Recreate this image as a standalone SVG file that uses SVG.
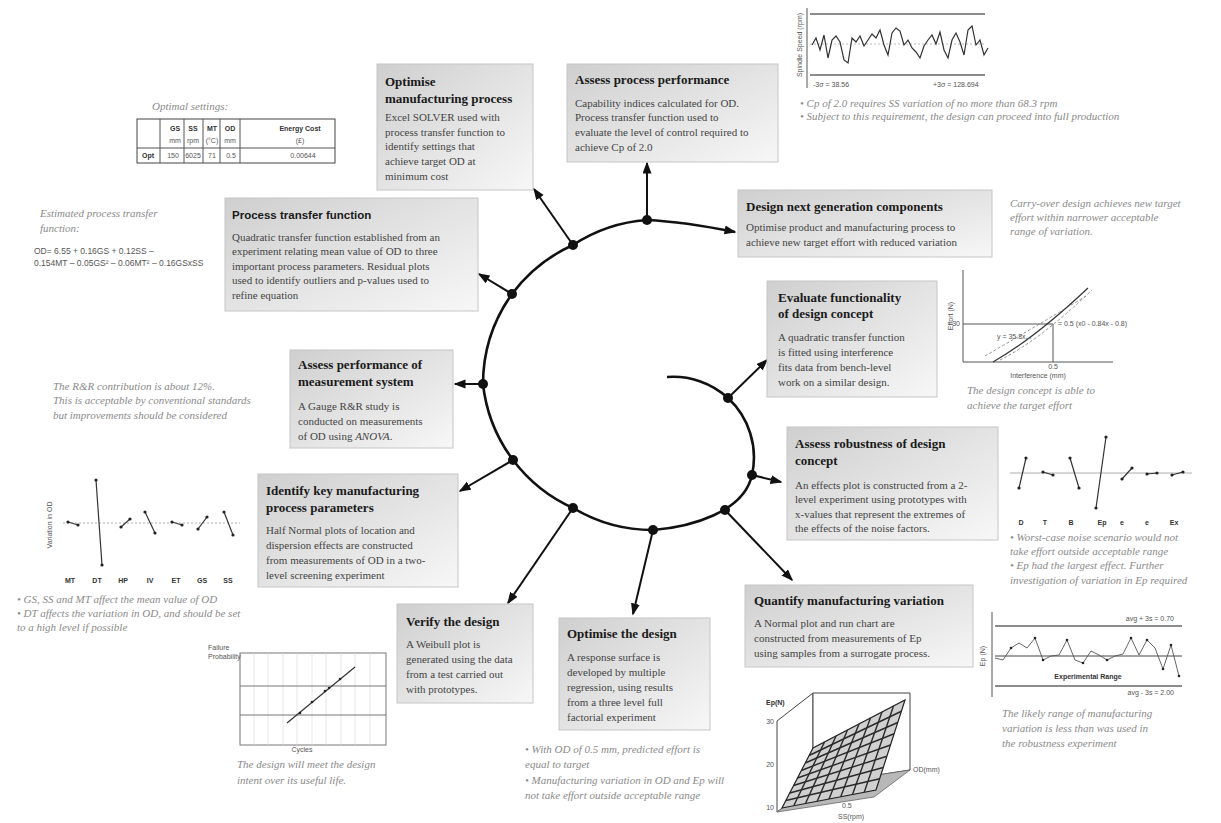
<svg xmlns="http://www.w3.org/2000/svg" width="1221" height="823" viewBox="0 0 1221 823">
<defs>
<linearGradient id="g" x1="0" y1="0" x2="1" y2="1">
<stop offset="0" stop-color="#cfcfcf"/>
<stop offset="1" stop-color="#f7f7f7"/>
</linearGradient>
<marker id="ah" markerUnits="userSpaceOnUse" markerWidth="13" markerHeight="10" refX="10.5" refY="4.5" orient="auto">
<path d="M0,0 L12,4.5 L0,9 z" fill="#111"/>
</marker>
<style>
.box{fill:url(#g);stroke:#c6c6c6;stroke-width:1}
.t{font-family:"Liberation Serif",serif;font-weight:bold;font-size:13px;fill:#1a1a1a}
.ts{font-family:"Liberation Sans",sans-serif;font-weight:bold;font-size:11.5px;fill:#1a1a1a}
.b{font-family:"Liberation Serif",serif;font-size:11px;fill:#444}
.n{font-family:"Liberation Serif",serif;font-style:italic;font-size:11px;fill:#8a8a8a}
.s{font-family:"Liberation Sans",sans-serif;font-size:7px;fill:#555}
.sb{font-family:"Liberation Sans",sans-serif;font-size:7px;fill:#333;font-weight:bold}
.eq{font-family:"Liberation Sans",sans-serif;font-size:8.5px;fill:#555}
.arr{stroke:#111;stroke-width:2;fill:none;marker-end:url(#ah)}
.ax{stroke:#555;stroke-width:1;fill:none}
.dl{stroke:#333;stroke-width:1.2;fill:none}
.dot{fill:#111}
</style>
</defs>
<rect width="1221" height="823" fill="#fff"/>

<!-- connectors -->
<g id="connectors">
<path d="M667,377 A81,81 0 0 1 728,398 A81,81 0 0 1 752,475 C744,512 691,527 653,530 A155,155 0 0 1 573,508 A155,155 0 0 1 513,460 A155,155 0 0 1 483,384 A155,155 0 0 1 512,294 A155,155 0 0 1 573,245 A155,155 0 0 1 647,220 C677,221.4 705,226 735,232" fill="none" stroke="#111" stroke-width="2.6" marker-end="url(#ah)"/>
<line class="arr" x1="647" y1="220" x2="647" y2="163"/>
<line class="arr" x1="573" y1="245" x2="534" y2="189"/>
<line class="arr" x1="512" y1="294" x2="479" y2="274"/>
<line class="arr" x1="483" y1="384" x2="455" y2="384"/>
<line class="arr" x1="513" y1="460" x2="460" y2="491"/>
<line class="arr" x1="573" y1="508" x2="508" y2="603"/>
<line class="arr" x1="653" y1="530" x2="633" y2="614"/>
<line class="arr" x1="725" y1="510" x2="792" y2="580"/>
<line class="arr" x1="752" y1="475" x2="781" y2="482"/>
<line class="arr" x1="728" y1="398" x2="767" y2="360"/>
<circle class="dot" cx="647" cy="220" r="5"/>
<circle class="dot" cx="573" cy="245" r="5"/>
<circle class="dot" cx="512" cy="294" r="5"/>
<circle class="dot" cx="483" cy="384" r="5"/>
<circle class="dot" cx="513" cy="460" r="5"/>
<circle class="dot" cx="573" cy="508" r="5"/>
<circle class="dot" cx="653" cy="530" r="5"/>
<circle class="dot" cx="725" cy="510" r="5"/>
<circle class="dot" cx="752" cy="475" r="5"/>
<circle class="dot" cx="728" cy="398" r="5"/>
</g>

<!-- nodes -->
<g id="optimise-mfg">
<rect class="box" x="377" y="64" width="156" height="126"/>
<text class="t" x="385" y="86">Optimise</text>
<text class="t" x="385" y="103">manufacturing process</text>
<text class="b" x="385" y="121">Excel SOLVER used with</text>
<text class="b" x="385" y="136">process transfer function to</text>
<text class="b" x="385" y="150">identify settings that</text>
<text class="b" x="385" y="165">achieve target OD at</text>
<text class="b" x="385" y="180">minimum cost</text>
</g>

<g id="assess-process">
<rect class="box" x="567" y="64" width="211" height="98"/>
<text class="t" x="575" y="84">Assess process performance</text>
<text class="b" x="575" y="107">Capability indices calculated for OD.</text>
<text class="b" x="575" y="121">Process transfer function used to</text>
<text class="b" x="575" y="136">evaluate the level of control required to</text>
<text class="b" x="575" y="151">achieve Cp of 2.0</text>
</g>

<g id="design-next">
<rect class="box" x="738" y="190" width="254" height="67"/>
<text class="t" x="746" y="211">Design next generation components</text>
<text class="b" x="746" y="231">Optimise product and manufacturing process to</text>
<text class="b" x="746" y="246">achieve new target effort with reduced variation</text>
</g>

<g id="process-transfer">
<rect class="box" x="225" y="198" width="253" height="113"/>
<text class="ts" x="232" y="219">Process transfer function</text>
<text class="b" x="232" y="241">Quadratic transfer function established from an</text>
<text class="b" x="232" y="255">experiment relating mean value of OD to three</text>
<text class="b" x="232" y="270">important process parameters.  Residual plots</text>
<text class="b" x="232" y="284">used to identify outliers and  p-values used to</text>
<text class="b" x="232" y="299">refine equation</text>
</g>

<g id="evaluate-functionality">
<rect class="box" x="767" y="281" width="170" height="116"/>
<text class="t" x="778" y="302">Evaluate functionality</text>
<text class="t" x="778" y="318">of design concept</text>
<text class="b" x="778" y="341">A quadratic transfer function</text>
<text class="b" x="778" y="356">is fitted using interference</text>
<text class="b" x="778" y="371">fits data from  bench-level</text>
<text class="b" x="778" y="386">work on a similar design.</text>
</g>

<g id="assess-measurement">
<rect class="box" x="290" y="350" width="163" height="98"/>
<text class="t" x="298" y="369">Assess performance of</text>
<text class="t" x="298" y="386">measurement system</text>
<text class="b" x="298" y="410">A Gauge R&amp;R study is</text>
<text class="b" x="298" y="425">conducted on measurements</text>
<text class="b" x="298" y="440">of OD using <tspan font-style="italic">ANOVA</tspan>.</text>
</g>

<g id="assess-robustness">
<rect class="box" x="787" y="427" width="211" height="113"/>
<text class="t" x="795" y="448">Assess robustness of design</text>
<text class="t" x="795" y="465">concept</text>
<text class="b" x="795" y="489">An effects plot is constructed from a 2-</text>
<text class="b" x="795" y="503">level experiment using prototypes with</text>
<text class="b" x="795" y="518">x-values that represent the extremes of</text>
<text class="b" x="795" y="532">the effects of the noise factors.</text>
</g>

<g id="identify-key">
<rect class="box" x="258" y="474" width="200" height="113"/>
<text class="t" x="266" y="495">Identify key manufacturing</text>
<text class="t" x="266" y="512">process parameters</text>
<text class="b" x="266" y="534">Half Normal plots of location and</text>
<text class="b" x="266" y="549">dispersion effects are constructed</text>
<text class="b" x="266" y="564">from measurements of OD in a two-</text>
<text class="b" x="266" y="579">level  screening experiment</text>
</g>

<g id="verify-design">
<rect class="box" x="397" y="604" width="136" height="99"/>
<text class="t" x="406" y="626">Verify the design</text>
<text class="b" x="406" y="648">A Weibull plot is</text>
<text class="b" x="406" y="663">generated using the data</text>
<text class="b" x="406" y="678">from a test carried out</text>
<text class="b" x="406" y="693">with prototypes.</text>
</g>

<g id="optimise-design">
<rect class="box" x="559" y="618" width="151" height="112"/>
<text class="t" x="567" y="638">Optimise the design</text>
<text class="b" x="567" y="661">A response surface is</text>
<text class="b" x="567" y="676">developed by multiple</text>
<text class="b" x="567" y="691">regression, using results</text>
<text class="b" x="567" y="706">from a three level full</text>
<text class="b" x="567" y="721">factorial experiment</text>
</g>

<g id="quantify-variation">
<rect class="box" x="745" y="585" width="228" height="82"/>
<text class="t" x="754" y="605">Quantify manufacturing variation</text>
<text class="b" x="754" y="627">A Normal plot and run chart are</text>
<text class="b" x="754" y="642">constructed from measurements of Ep</text>
<text class="b" x="754" y="657">using samples from a surrogate process.</text>
</g>

<!-- annotations & charts -->
<g id="optimal-settings">
<text class="n" x="152" y="110">Optimal settings:</text>
<rect x="137" y="119" width="198" height="44" fill="#fff" stroke="#444" stroke-width="1"/>
<line class="ax" x1="137" y1="148" x2="335" y2="148"/>
<line class="ax" x1="160" y1="119" x2="160" y2="163"/>
<line class="ax" x1="184" y1="119" x2="184" y2="163"/>
<line class="ax" x1="203" y1="119" x2="203" y2="163"/>
<line class="ax" x1="220" y1="119" x2="220" y2="163"/>
<line class="ax" x1="240" y1="119" x2="240" y2="163"/>
<g text-anchor="middle">
<text class="sb" x="175" y="131">GS</text><text class="s" x="175" y="143">mm</text>
<text class="sb" x="193" y="131">SS</text><text class="s" x="193" y="143">rpm</text>
<text class="sb" x="212" y="131">MT</text><text class="s" x="212" y="143">(°C)</text>
<text class="sb" x="230" y="131">OD</text><text class="s" x="230" y="143">mm</text>
<text class="sb" x="300" y="131">Energy Cost</text><text class="s" x="300" y="143">(£)</text>
<text class="sb" x="148" y="158">Opt</text>
<text class="s" x="173" y="158">150</text>
<text class="s" x="193" y="158">6025</text>
<text class="s" x="212" y="158">71</text>
<text class="s" x="231" y="158">0.5</text>
<text class="s" x="303" y="158">0.00644</text>
</g>
</g>

<g id="transfer-equation">
<text class="n" x="40" y="217">Estimated process transfer</text>
<text class="n" x="40" y="232">function:</text>
<text class="eq" x="34" y="254">OD= 6.55 + 0.16GS + 0.12SS –</text>
<text class="eq" x="34" y="266">0.154MT – 0.05GS² – 0.06MT² – 0.16GSxSS</text>
</g>

<g id="run-chart-ss">
<line class="ax" x1="807" y1="8" x2="807" y2="88"/>
<line x1="810" y1="14" x2="985" y2="14" stroke="#666" stroke-width="1.5"/>
<line x1="810" y1="75" x2="985" y2="75" stroke="#666" stroke-width="1.5"/>
<line x1="810" y1="44" x2="985" y2="44" stroke="#aaa" stroke-width="0.8" stroke-dasharray="2,2"/>
<polyline class="dl" points="812,45 816,38 820,50 824,35 828,58 832,40 836,36 840,42 844,60 848,63 852,38 856,42 860,36 864,46 868,40 872,34 876,38 880,30 884,45 888,55 892,33 896,28 900,31 904,45 908,40 912,48 916,52 920,58 924,46 928,40 932,35 936,44 940,32 944,50 948,58 952,40 956,33 960,42 964,55 968,30 972,26 976,45 980,40 984,55 988,48"/>
<text class="s" x="802" y="45" font-size="6" text-anchor="middle" transform="rotate(-90 802 45)">Spindle Speed (rpm)</text>
<text class="s" x="813" y="87">-3σ = 38.56</text>
<text class="s" x="933" y="87">+3σ = 128.694</text>
<text class="n" x="800" y="107">• Cp of 2.0 requires SS variation of no more than 68.3 rpm</text>
<text class="n" x="800" y="120">• Subject to this requirement, the design can proceed into full production</text>
</g>

<g id="carry-over-note">
<text class="n" x="1010" y="207">Carry-over design achieves new target</text>
<text class="n" x="1010" y="221">effort within narrower acceptable</text>
<text class="n" x="1010" y="235">range of variation.</text>
</g>

<g id="functionality-chart">
<line class="ax" x1="963" y1="270" x2="963" y2="362"/>
<line class="ax" x1="963" y1="362" x2="1113" y2="362"/>
<line class="ax" x1="963" y1="324" x2="1053" y2="324"/>
<line class="ax" x1="1053" y1="324" x2="1053" y2="362"/>
<path d="M993,362 Q1035,338 1088,288" class="dl"/>
<path d="M985,356 Q1030,330 1086,296" fill="none" stroke="#777" stroke-width="0.8" stroke-dasharray="3,2"/>
<path d="M1000,360 Q1040,340 1092,290" fill="none" stroke="#777" stroke-width="0.8" stroke-dasharray="3,2"/>
<text class="s" x="953" y="316" font-size="6" text-anchor="middle" transform="rotate(-90 953 316)">Effort (N)</text>
<text class="s" x="960" y="326" font-size="6" text-anchor="end">30</text>
<text class="s" x="997" y="339" font-size="6">y = 35.8x...</text>
<text class="s" x="1058" y="326" font-size="6">= 0.5 (x0 - 0.84x - 0.8)</text>
<text class="s" x="1053" y="369" font-size="6" text-anchor="middle">0.5</text>
<text class="s" x="1038" y="378" font-size="6" text-anchor="middle">Interference (mm)</text>
<text class="n" x="967" y="394">The design concept is able to</text>
<text class="n" x="967" y="409">achieve the target effort</text>
</g>

<g id="rr-note">
<text class="n" x="53" y="390">The R&amp;R contribution is about 12%.</text>
<text class="n" x="53" y="404">This is acceptable by conventional standards</text>
<text class="n" x="53" y="419">but improvements should be considered</text>
</g>

<g id="robustness-chart">
<line x1="1010" y1="473" x2="1192" y2="473" stroke="#999" stroke-width="0.8"/>
<g class="dl">
<polyline points="1019,488 1026,458"/>
<polyline points="1043,472 1053,475"/>
<polyline points="1070,458 1079,488"/>
<polyline points="1106,437 1096,508"/>
<polyline points="1122,479 1132,468"/>
<polyline points="1147,474 1157,473"/>
<polyline points="1172,475 1183,472"/>
</g>
<g fill="#222">
<circle cx="1019" cy="488" r="1.6"/><circle cx="1026" cy="458" r="1.6"/>
<circle cx="1043" cy="472" r="1.6"/><circle cx="1053" cy="475" r="1.6"/>
<circle cx="1070" cy="458" r="1.6"/><circle cx="1079" cy="488" r="1.6"/>
<circle cx="1106" cy="437" r="1.6"/><circle cx="1096" cy="508" r="1.6"/>
<circle cx="1122" cy="479" r="1.6"/><circle cx="1132" cy="468" r="1.6"/>
<circle cx="1147" cy="474" r="1.6"/><circle cx="1157" cy="473" r="1.6"/>
<circle cx="1172" cy="475" r="1.6"/><circle cx="1183" cy="472" r="1.6"/>
</g>
<g class="sb" text-anchor="middle">
<text x="1021" y="525">D</text><text x="1045" y="525">T</text><text x="1071" y="525">B</text><text x="1102" y="525">Ep</text><text x="1122" y="525">e</text><text x="1147" y="525">e</text><text x="1174" y="525">Ex</text>
</g>
<text class="n" x="1010" y="541">• Worst-case noise scenario would not</text>
<text class="n" x="1010" y="555">take effort outside acceptable range</text>
<text class="n" x="1010" y="569">• Ep had the largest effect.  Further</text>
<text class="n" x="1010" y="584">investigation of variation in Ep required</text>
</g>

<g id="screening-chart">
<line x1="63" y1="523" x2="240" y2="523" stroke="#999" stroke-width="0.8" stroke-dasharray="2,2"/>
<g class="dl">
<polyline points="68,522 78,525"/>
<polyline points="96,480 102,565"/>
<polyline points="121,527 130,519"/>
<polyline points="145,512 155,533"/>
<polyline points="172,522 182,525"/>
<polyline points="198,529 207,517"/>
<polyline points="224,512 233,535"/>
</g>
<g fill="#222">
<circle cx="68" cy="522" r="1.6"/><circle cx="78" cy="525" r="1.6"/>
<circle cx="96" cy="480" r="1.6"/><circle cx="102" cy="565" r="1.6"/>
<circle cx="121" cy="527" r="1.6"/><circle cx="130" cy="519" r="1.6"/>
<circle cx="145" cy="512" r="1.6"/><circle cx="155" cy="533" r="1.6"/>
<circle cx="172" cy="522" r="1.6"/><circle cx="182" cy="525" r="1.6"/>
<circle cx="198" cy="529" r="1.6"/><circle cx="207" cy="517" r="1.6"/>
<circle cx="224" cy="512" r="1.6"/><circle cx="233" cy="535" r="1.6"/>
</g>
<text class="s" x="52" y="525" font-size="6" text-anchor="middle" transform="rotate(-90 52 525)">Variation in OD</text>
<g class="sb" text-anchor="middle">
<text x="70" y="583">MT</text><text x="97" y="583">DT</text><text x="123" y="583">HP</text><text x="150" y="583">IV</text><text x="176" y="583">ET</text><text x="202" y="583">GS</text><text x="228" y="583">SS</text>
</g>
<text class="n" x="17" y="603">• GS, SS and MT affect the mean value of OD</text>
<text class="n" x="17" y="617">• DT affects the variation in OD, and should be set</text>
<text class="n" x="17" y="631">to a high level if possible</text>
</g>

<g id="weibull-chart">
<rect x="240" y="653" width="146" height="92" fill="#fff" stroke="#777" stroke-width="1"/>
<g stroke="#ddd" stroke-width="0.7">
<line x1="254" y1="653" x2="254" y2="745"/><line x1="268" y1="653" x2="268" y2="745"/>
<line x1="283" y1="653" x2="283" y2="745"/><line x1="297" y1="653" x2="297" y2="745"/>
<line x1="312" y1="653" x2="312" y2="745"/><line x1="326" y1="653" x2="326" y2="745"/>
<line x1="341" y1="653" x2="341" y2="745"/><line x1="355" y1="653" x2="355" y2="745"/>
<line x1="370" y1="653" x2="370" y2="745"/>
</g>
<line x1="240" y1="686" x2="386" y2="686" stroke="#777" stroke-width="1"/>
<line x1="240" y1="715" x2="386" y2="715" stroke="#777" stroke-width="1"/>
<line class="dl" x1="287" y1="723" x2="355" y2="667"/>
<g fill="#222"><circle cx="300" cy="713" r="1.3"/><circle cx="312" cy="702" r="1.3"/><circle cx="325" cy="691" r="1.3"/><circle cx="329" cy="688" r="1.3"/><circle cx="340" cy="679" r="1.3"/></g>
<text class="s" x="208" y="650" font-size="6">Failure</text>
<text class="s" x="208" y="659" font-size="6">Probability</text>
<text class="s" x="302" y="752" font-size="6" text-anchor="middle">Cycles</text>
<text class="n" x="237" y="768">The design will meet the design</text>
<text class="n" x="237" y="784">intent over its useful life.</text>
</g>

<g id="optimise-note">
<text class="n" x="525" y="753">• With OD of 0.5 mm,  predicted  effort is</text>
<text class="n" x="525" y="768">equal to target</text>
<text class="n" x="525" y="784">• Manufacturing variation in OD and Ep will</text>
<text class="n" x="525" y="799">not take effort outside acceptable range</text>
</g>

<g id="surface-chart">
<polygon points="777,721 813,693 813,785 777,812" fill="#fff" stroke="#444" stroke-width="1"/>
<polygon points="813,693 910,693 910,770 813,785" fill="#fff" stroke="#444" stroke-width="1"/>
<polygon points="777,812 813,785 910,770 874,797" fill="#b8b8b8" stroke="#666" stroke-width="0.8"/>
<polygon points="782,808 876,790 905,700 813,748" fill="#d0d0d0" stroke="#222" stroke-width="1.2"/>
<g stroke="#2a2a2a" stroke-width="1.4">
<line x1="793.75" y1="805.75" x2="824.5" y2="742"/>
<line x1="805.5" y1="803.5" x2="836" y2="736"/>
<line x1="817.25" y1="801.25" x2="847.5" y2="730"/>
<line x1="829" y1="799" x2="859" y2="724"/>
<line x1="840.75" y1="796.75" x2="870.5" y2="718"/>
<line x1="852.5" y1="794.5" x2="882" y2="712"/>
<line x1="864.25" y1="792.25" x2="893.5" y2="706"/>
<line x1="785.9" y1="800.5" x2="879.6" y2="778.75"/>
<line x1="789.75" y1="793" x2="883.25" y2="767.5"/>
<line x1="793.6" y1="785.5" x2="886.9" y2="756.25"/>
<line x1="797.5" y1="778" x2="890.5" y2="745"/>
<line x1="801.4" y1="770.5" x2="894.1" y2="733.75"/>
<line x1="805.25" y1="763" x2="897.75" y2="722.5"/>
<line x1="809.1" y1="755.5" x2="901.4" y2="711.25"/>
</g>
<text class="sb" x="766" y="705" font-size="6">Ep(N)</text>
<text class="s" x="774" y="724" font-size="6" text-anchor="end">30</text>
<text class="s" x="774" y="767" font-size="6" text-anchor="end">20</text>
<text class="s" x="774" y="810" font-size="6" text-anchor="end">10</text>
<text class="s" x="913" y="772" font-size="6">OD(mm)</text>
<text class="s" x="842" y="808" font-size="6">0.5</text>
<text class="s" x="838" y="819" font-size="6">SS(rpm)</text>
</g>

<g id="run-chart-ep">
<line class="ax" x1="992" y1="612" x2="992" y2="697"/>
<line x1="995" y1="626" x2="1182" y2="626" stroke="#666" stroke-width="1.5"/>
<line x1="995" y1="686" x2="1182" y2="686" stroke="#666" stroke-width="1.5"/>
<line x1="995" y1="656" x2="1182" y2="656" stroke="#444" stroke-width="1"/>
<polyline fill="none" stroke="#555" stroke-width="0.9" points="995,658 1003,660 1011,648 1019,643 1027,648 1035,638 1043,660 1051,656 1059,655 1067,640 1075,660 1083,663 1091,651 1099,655 1107,660 1115,656 1123,654 1131,638 1139,655 1147,640 1155,648 1163,669 1171,645 1179,676"/>
<g fill="#222">
<circle cx="1011" cy="648" r="1.3"/><circle cx="1035" cy="638" r="1.3"/><circle cx="1043" cy="660" r="1.3"/><circle cx="1067" cy="640" r="1.3"/><circle cx="1083" cy="663" r="1.3"/><circle cx="1107" cy="660" r="1.3"/><circle cx="1131" cy="638" r="1.3"/><circle cx="1147" cy="640" r="1.3"/><circle cx="1163" cy="669" r="1.3"/><circle cx="1171" cy="645" r="1.3"/><circle cx="1179" cy="676" r="1.3"/>
</g>
<text class="s" x="985" y="656" font-size="6" text-anchor="middle" transform="rotate(-90 985 656)">Ep (N)</text>
<text class="s" x="1174" y="621" font-size="6" text-anchor="end">avg + 3s =  0.70</text>
<text class="s" x="1174" y="695" font-size="6" text-anchor="end">avg - 3s =  2.00</text>
<text class="sb" x="1088" y="679" font-size="6" text-anchor="middle">Experimental Range</text>
<text class="n" x="1002" y="717">The likely range of manufacturing</text>
<text class="n" x="1002" y="732">variation is less than was used in</text>
<text class="n" x="1002" y="747">the robustness experiment</text>
</g>
</svg>
